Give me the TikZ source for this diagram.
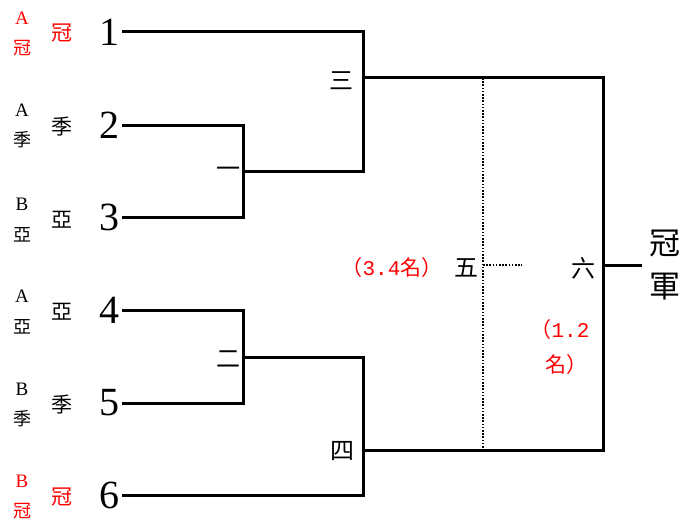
\documentclass[tikz,border=0pt]{standalone}
\usepackage{fontspec}
\setmainfont{Liberation Serif}
\setmonofont{Liberation Mono}
\newfontfamily\cjk{Noto Sans CJK TC}
\usepackage{tikz}
\usetikzlibrary{positioning}

\begin{document}
\begin{tikzpicture}[x=1pt,y=-1pt,
    bracket/.style={line width=3pt,line join=miter},
    dotline/.style={line width=2.4pt,dash pattern=on 1.6pt off 1.6pt},
    num/.style={font=\fontsize{40}{42}\selectfont,inner sep=2pt,anchor=east},
    group/.style={font=\fontsize{19}{20}\selectfont,inner sep=0pt},
    tag/.style={font=\fontsize{18}{20}\selectfont\cjk,inner sep=0pt},
    seat/.style={font=\fontsize{21}{22}\selectfont\cjk,inner sep=0pt},
    round/.style={font=\fontsize{24}{26}\selectfont\cjk,inner sep=0pt},
    rank/.style={font=\fontsize{21}{22}\selectfont\cjk,inner sep=0pt,text=red}]
    \useasboundingbox (0,0) rectangle (692,524);
    % players
    \node[num] (p1) at (122,32) {1};
    \node[num] (p2) at (122,125) {2};
    \node[num] (p3) at (122,217) {3};
    \node[num] (p4) at (122,310) {4};
    \node[num] (p5) at (122,403) {5};
    \node[num] (p6) at (122,495) {6};
    % group and place of each player
    \node[group,text=red] (g1) at (22,18) {A};
    \node[tag,text=red] (c1) at (22,48) {冠};
    \node[group] (g2) at (22,110) {A};
    \node[tag] (c2) at (22,140) {季};
    \node[group] (g3) at (22,204) {B};
    \node[tag] (c3) at (22,235) {亞};
    \node[group] (g4) at (22,296) {A};
    \node[tag] (c4) at (22,327) {亞};
    \node[group] (g5) at (22,389) {B};
    \node[tag] (c5) at (22,419) {季};
    \node[group,text=red] (g6) at (22,481) {B};
    \node[tag,text=red] (c6) at (22,511) {冠};
    \node[seat,text=red] (s1) at (62,33) {冠};
    \node[seat] (s2) at (62,127) {季};
    \node[seat] (s3) at (62,220) {亞};
    \node[seat] (s4) at (62,312) {亞};
    \node[seat] (s5) at (62,405) {季};
    \node[seat,text=red] (s6) at (62,497) {冠};
    % junctions
    \coordinate (j1) at (243,171);
    \coordinate (j2) at (243,357);
    \coordinate (j3) at (363,78);
    \coordinate (j4) at (363,450);
    \coordinate (j5) at (483,265);
    \coordinate (j6) at (603,265);
    \coordinate (d5) at (522,265);
    \coordinate (champ) at (642,265);
    \draw[bracket] (p2.east) -| (j1) |- (p3.east);
    \draw[bracket] (p4.east) -| (j2) |- (p5.east);
    \draw[bracket] (p1.east) -| (j3) |- (j1);
    \draw[bracket] (j2) -| (j4) |- (p6.east);
    \draw[bracket] (j3) -| (j6) |- (j4);
    \draw[bracket] (j6) -- (champ);
    \draw[dotline] (j3 -| j5) -- (j4 -| j5);
    \draw[dotline] (j5) -- (d5);
    % round names
    \node[round] (r1) at (228,172) {一};
    \node[round] (r2) at (228,359) {二};
    \node[round] (r3) at (341,81) {三};
    \node[round] (r4) at (342,451) {四};
    \node[round] (r5) at (466,268) {五};
    \node[round] (r6) at (583,268) {六};
    \node[rank] (k5) at (392,268) {（\texttt{3.4}名）};
    \node[rank] (k6a) at (560,330) {（\texttt{1.2}};
    \node[rank] (k6b) at (566,365) {名）};
    \node[font=\fontsize{31}{32}\selectfont\cjk,inner sep=0pt] (w1) at (665,243) {冠};
    \node[font=\fontsize{31}{32}\selectfont\cjk,inner sep=0pt] (w2) at (665,287) {軍};
\end{tikzpicture}
\end{document}
